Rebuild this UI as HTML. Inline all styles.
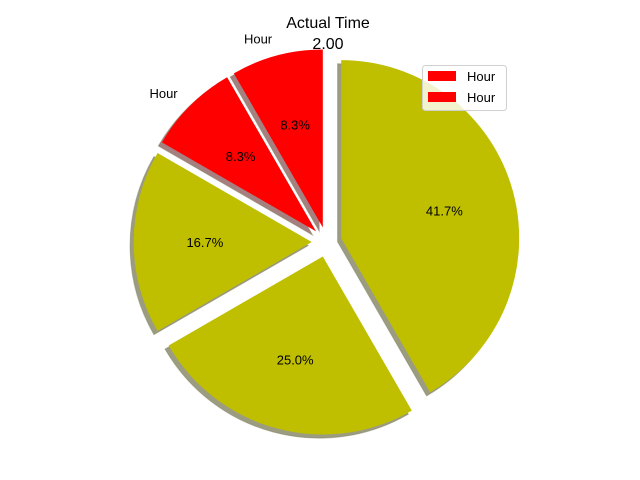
<!DOCTYPE html>
<html><head><meta charset="utf-8"><style>
body{margin:0;background:#fff}
svg{display:block;font-family:"Liberation Sans","DejaVu Sans",sans-serif}
</style></head><body>
<svg id="chart" width="640" height="480" viewBox="0 0 640 480">
<text x="328" y="28" font-size="16" text-anchor="middle">Actual Time</text>
<text x="328" y="49" font-size="16" text-anchor="middle">2.00</text>
<g id="shadows"></g>
<g id="wedges"></g>
<g id="texts"></g>
<g>
<rect x="422.5" y="65.5" width="84" height="45" rx="3" fill="#fff" fill-opacity="0.8" stroke="#d0d0d0"/>
<rect x="428" y="71" width="28" height="10" fill="#ff0000"/>
<text x="467" y="81" font-size="13">Hour</text>
<rect x="428" y="92" width="28" height="10" fill="#ff0000"/>
<text x="467" y="102" font-size="13">Hour</text>
</g>
</svg>
<script>
const values = [1, 1, 2, 3, 5];
const colors = ["#ff0000", "#ff0000", "#bfbf00", "#bfbf00", "#bfbf00"];
const labels = ["Hour", "Hour", "", "", ""];
const cx = 326.7, cy = 242, R = 178, EXP = 15, START = 90;
const NS = "http://www.w3.org/2000/svg";
const total = values.reduce((a, b) => a + b, 0);
function pt(x, y, r, deg) { const a = deg * Math.PI / 180; return [x + r * Math.cos(a), y - r * Math.sin(a)]; }
function wedgePath(x, y, a0, a1) {
  const p0 = pt(x, y, R, a0), p1 = pt(x, y, R, a1);
  const large = (a1 - a0) > 180 ? 1 : 0;
  return `M${x},${y} L${p0[0]},${p0[1]} A${R},${R} 0 ${large} 0 ${p1[0]},${p1[1]} Z`;
}
const shadows = document.getElementById("shadows"), wedges = document.getElementById("wedges"), texts = document.getElementById("texts");
let ang = START;
values.forEach((v, i) => {
  const sweep = v / total * 360, a0 = ang, a1 = ang + sweep, mid = (a0 + a1) / 2;
  const [vx, vy] = pt(cx, cy, EXP, mid);
  const c = colors[i];
  const r = parseInt(c.slice(1, 3), 16), g = parseInt(c.slice(3, 5), 16), b = parseInt(c.slice(5, 7), 16);
  const sh = `rgb(${Math.round(0.5 * 0.3 * r + 127.5)},${Math.round(0.5 * 0.3 * g + 127.5)},${Math.round(0.5 * 0.3 * b + 127.5)})`;
  const s = document.createElementNS(NS, "path");
  s.setAttribute("d", wedgePath(vx - 3.6, vy + 3.6, a0, a1));
  s.setAttribute("fill", sh);
  s.setAttribute("stroke", "#808060");
  s.setAttribute("stroke-opacity", "0.5");
  
  
  shadows.appendChild(s);
  const w = document.createElementNS(NS, "path");
  w.setAttribute("d", wedgePath(vx, vy, a0, a1));
  w.setAttribute("fill", c);
  
  
  wedges.appendChild(w);
  const [px, py] = pt(vx, vy, R * 0.6, mid);
  const t = document.createElementNS(NS, "text");
  t.setAttribute("x", px); t.setAttribute("y", py + 5);
  t.setAttribute("font-size", "13"); t.setAttribute("text-anchor", "middle");
  t.textContent = (v / total * 100).toFixed(1) + "%";
  
  
  texts.appendChild(t);
  if (labels[i]) {
    const [lx, ly] = pt(vx, vy, R * 1.1, mid);
    const l = document.createElementNS(NS, "text");
    l.setAttribute("x", lx); l.setAttribute("y", ly + 5);
    l.setAttribute("font-size", "13");
    l.setAttribute("text-anchor", Math.cos(mid * Math.PI / 180) < 0 ? "end" : "start");
    l.textContent = labels[i];
    
    
    texts.appendChild(l);
  }
  ang = a1;
});
</script>
</body></html>
